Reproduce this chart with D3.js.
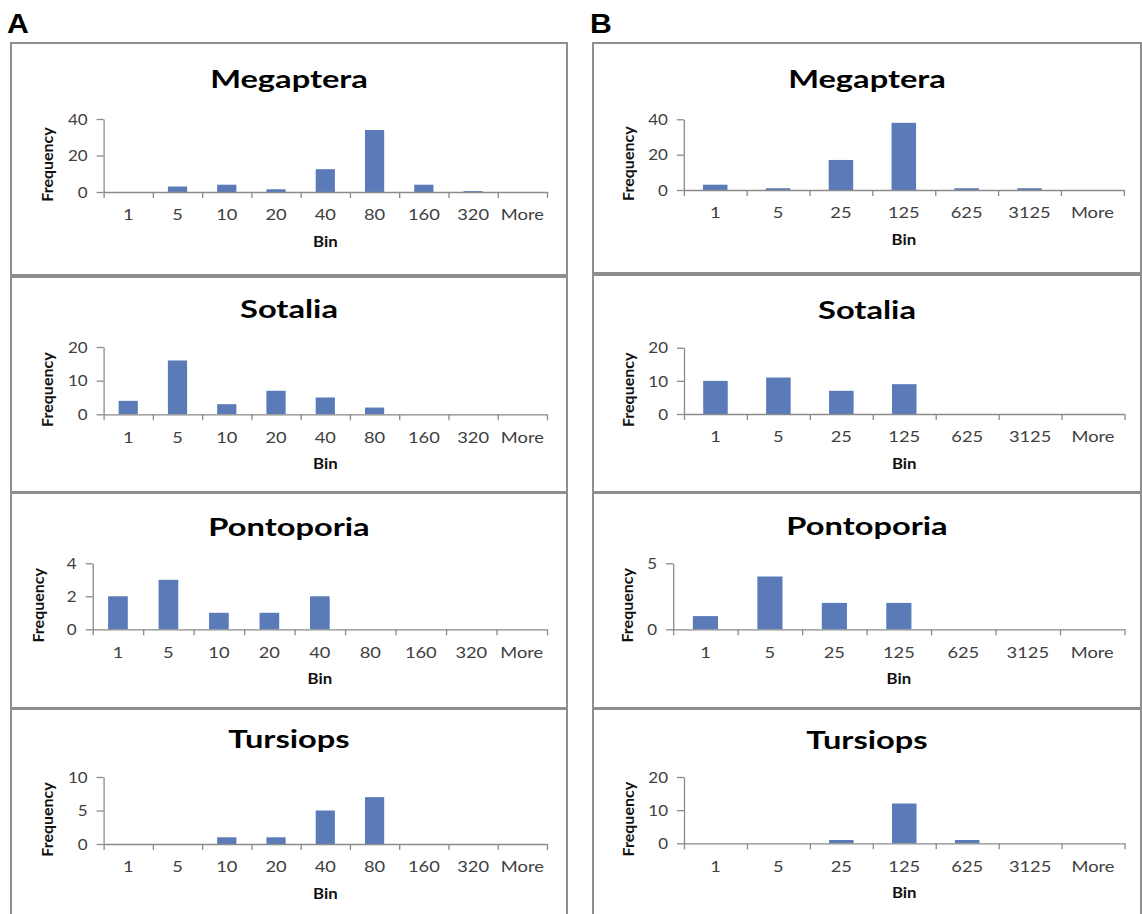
<!DOCTYPE html>
<html>
<head>
<meta charset="utf-8">
<script src="https://cdn.jsdelivr.net/npm/d3@7"></script>
<style>
  body { margin: 0; background: #fff; }
  svg { display: block; }
  .axis text { font-family: Lato, "Open Sans", sans-serif; fill: #404040; }
</style>
</head>
<body>
<div id="chart"></div>
<script>
// ---------------- DATA ----------------
const species = ["Megaptera", "Sotalia", "Pontoporia", "Tursiops"];
const binsA = ["1", "5", "10", "20", "40", "80", "160", "320", "More"];
const binsB = ["1", "5", "25", "125", "625", "3125", "More"];

// panel A: frequency per bin
const megapteraA  = [0, 3, 4, 1.5, 12.5, 34, 4, 0.5, 0];
const sotaliaA    = [4, 16, 3, 7, 5, 2, 0, 0, 0];
const pontoporiaA = [2, 3, 1, 1, 2, 0, 0, 0, 0];
const tursiopsA   = [0, 0, 1, 1, 5, 7, 0, 0, 0];

// panel B: frequency per bin
const megapteraB  = [3, 1, 17, 38, 1, 1, 0];
const sotaliaB    = [10, 11, 7, 9, 0, 0, 0];
const pontoporiaB = [1, 4, 2, 2, 0, 0, 0];
const tursiopsB   = [0, 0, 1, 12, 1, 0, 0];

const yTicksA = [[0, 20, 40], [0, 10, 20], [0, 2, 4], [0, 5, 10]];
const yTicksB = [[0, 20, 40], [0, 10, 20], [0, 5], [0, 10, 20]];

// ---------------- LAYOUT ----------------
const W = 1142, H = 914;
const barColor = "#5b7bb8";
const boxColor = "#8e8e8e";
const axisColor = "#8a8a8a";
const font = "Lato, 'Open Sans', sans-serif";

const layoutA = [
  {box: [11, 43, 567, 275],  x0: 103.6, x1: 547, y0: 192,   y1: 119,   titleY: 88,  freqX: 49},
  {box: [11, 277, 567, 492], x0: 103.6, x1: 547, y0: 414.3, y1: 347,   titleY: 318, freqX: 49},
  {box: [11, 493, 567, 708], x0: 92.7,  x1: 547, y0: 629.3, y1: 563.3, titleY: 536, freqX: 40},
  {box: [11, 709, 567, 920], x0: 103.6, x1: 547, y0: 844,   y1: 777,   titleY: 748, freqX: 49}
];
const layoutB = [
  {box: [593, 43, 1141, 273],  x0: 683.8, x1: 1123.8, y0: 190,   y1: 119.3, titleY: 88,  freqX: 630},
  {box: [593, 275, 1141, 492], x0: 684,   x1: 1124.5, y0: 414,   y1: 347.7, titleY: 319, freqX: 630},
  {box: [593, 493, 1141, 708], x0: 673.2, x1: 1124.5, y0: 629.3, y1: 563.3, titleY: 535, freqX: 629},
  {box: [593, 709, 1141, 920], x0: 684,   x1: 1124.5, y0: 843.3, y1: 777,   titleY: 749, freqX: 630}
];

const svg = d3.select("#chart").append("svg")
  .attr("width", W)
  .attr("height", H)
  .attr("viewBox", `0 0 ${W} ${H}`);

svg.append("rect").attr("width", W).attr("height", H).attr("fill", "#fff");

// panel letters
[["A", 7], ["B", 590]].forEach(([t, x]) => {
  svg.append("text")
    .attr("transform", `translate(${x},33) scale(1.12,1)`)
    .style("font-family", "'Liberation Sans', Arial, sans-serif")
    .style("font-weight", "bold")
    .style("font-size", "27px")
    .attr("fill", "#000")
    .text(t);
});

function drawPanel(L, name, bins, values, ticks) {
  const g = svg.append("g");

  g.append("rect")
    .attr("x", L.box[0]).attr("y", L.box[1])
    .attr("width", L.box[2] - L.box[0]).attr("height", L.box[3] - L.box[1])
    .attr("fill", "none")
    .attr("stroke", boxColor)
    .attr("stroke-width", 2);

  const x = d3.scaleBand().domain(bins).range([L.x0, L.x1])
    .paddingInner(0.61).paddingOuter(0.305);
  const edges = d3.scalePoint().domain(d3.range(bins.length + 1)).range([L.x0, L.x1]);
  const y = d3.scaleLinear().domain([0, d3.max(ticks)]).range([L.y0, L.y1]);

  // bars
  g.selectAll(".bar")
    .data(values.map((v, i) => ({bin: bins[i], v})))
    .enter().append("rect")
    .attr("class", "bar")
    .attr("x", d => x(d.bin))
    .attr("width", x.bandwidth())
    .attr("y", d => y(d.v))
    .attr("height", d => y(0) - y(d.v))
    .attr("fill", barColor);

  // x axis: tick marks at bin edges
  const xAx = g.append("g").attr("class", "axis")
    .attr("transform", `translate(0,${L.y0})`)
    .call(d3.axisBottom(edges).tickSize(6).tickSizeOuter(0).tickFormat(""));
  xAx.selectAll("path, line").attr("stroke", axisColor).attr("stroke-width", 1.3);

  // x labels at bin centres
  const xLab = g.append("g").attr("class", "axis")
    .attr("transform", `translate(0,${L.y0})`)
    .call(d3.axisBottom(x).tickSize(0).tickPadding(0));
  xLab.select(".domain").remove();
  xLab.selectAll("text")
    .attr("y", 28.5)
    .attr("dy", null)
    .style("font-size", "15.5px")
    .attr("transform", "scale(1.18,1)");

  // y axis
  const yAx = g.append("g").attr("class", "axis")
    .attr("transform", `translate(${L.x0},0)`)
    .call(d3.axisLeft(y).tickValues(ticks).tickFormat(d3.format("d"))
      .tickSize(7).tickSizeOuter(0).tickPadding(0));
  yAx.selectAll("path, line").attr("stroke", axisColor).attr("stroke-width", 1.3);
  yAx.selectAll("text")
    .attr("x", -16 / 1.17)
    .attr("dy", "0.36em")
    .style("font-size", "14.5px")
    .attr("transform", "scale(1.17,1)");

  // title
  g.append("text")
    .attr("transform", `translate(${(L.box[0] + L.box[2]) / 2},${L.titleY}) scale(1.36,1)`)
    .attr("text-anchor", "middle")
    .style("font-family", font)
    .style("font-weight", "bold")
    .style("font-size", "24px")
    .attr("fill", "#000")
    .text(name);

  // axis titles
  g.append("text")
    .attr("transform", `translate(${(L.x0 + L.x1) / 2},${L.y0 + 55}) scale(1.12,1)`)
    .attr("text-anchor", "middle")
    .style("font-family", font)
    .style("font-weight", "bold")
    .style("font-size", "15px")
    .attr("fill", "#111")
    .text("Bin");

  g.append("text")
    .attr("transform", `translate(${L.freqX},${(L.y0 + L.y1) / 2 + 9}) rotate(-90)`)
    .attr("text-anchor", "middle")
    .attr("dominant-baseline", "middle")
    .style("font-family", font)
    .style("font-weight", "bold")
    .style("font-size", "16px")
    .attr("fill", "#111")
    .text("Frequency");
}

const seriesA = [megapteraA, sotaliaA, pontoporiaA, tursiopsA];
const seriesB = [megapteraB, sotaliaB, pontoporiaB, tursiopsB];

species.forEach((s, i) => {
  drawPanel(layoutA[i], s, binsA, seriesA[i], yTicksA[i]);
  drawPanel(layoutB[i], s, binsB, seriesB[i], yTicksB[i]);
});
</script>
</body>
</html>
